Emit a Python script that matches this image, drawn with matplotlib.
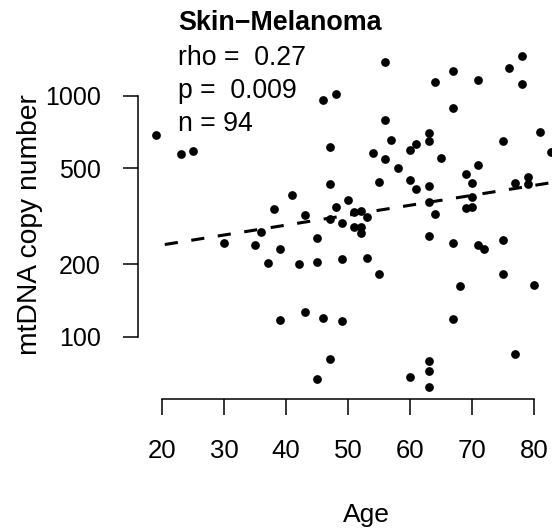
import matplotlib
matplotlib.use("Agg")
import matplotlib.pyplot as plt
import numpy as np

# data (age in years, mtDNA copy number)
age = [19, 23, 25, 46, 48, 47, 47, 41, 38, 43, 48, 50, 47, 49, 36, 45,
       56, 67, 64, 71, 76, 78, 78, 67, 56, 57, 54, 56, 58, 60, 61, 63,
       63, 65, 75, 81, 82.7, 55, 60, 61, 63, 63, 64, 69, 70, 71, 70, 69,
       70, 77, 79, 79, 51, 52, 53, 51, 52, 52, 63, 67, 71, 72, 75, 49,
       53, 55, 68, 75, 80, 49, 67, 47, 77, 63, 63, 60, 63, 30, 35, 39,
       37, 42, 45, 39, 43, 46, 45]
mtdna = [688, 574, 593, 962, 1019, 616, 431, 387, 339, 321, 347, 370, 307, 297, 272, 256,
         1385, 1274, 1140, 1162, 1304, 1462, 1122, 889, 791, 655, 581, 547, 501, 595, 630, 699,
         652, 551, 650, 711, 585, 438, 448, 410, 421, 361, 322, 472, 433, 518, 379, 342,
         347, 437, 459, 432, 330, 334, 315, 285, 286, 269, 262, 246, 240, 231, 253, 210,
         213, 183, 162, 182, 164, 116, 119, 81, 85, 79, 72, 68, 62, 246, 240, 231,
         203, 200, 205, 117, 127, 120, 67]

# log10(mtDNA) = fit_intercept + fit_slope * age
fit_intercept = 2.299
fit_slope = 0.004117
fit_range = [20.4, 87]

title = "Skin\u2212Melanoma"
stats = ["rho =  0.27", "p =  0.009", "n = 94"]
xticks = [20, 30, 40, 50, 60, 70, 80]
yticks = [100, 200, 500, 1000]

plt.rcParams["font.family"] = ["Liberation Sans", "DejaVu Sans"]
plt.rcParams["lines.scale_dashes"] = False

W, H = 552, 531
fig = plt.figure(figsize=(W / 100, H / 100), dpi=100)
# plot region runs past the right edge of the picture (the original is cropped)
ax = fig.add_axes([138.3 / W, 1 - 399.3 / H, (594 - 138.3) / W, (399.3 - 43) / H])

ax.set_yscale("log")
ax.set_xlim(16.12, 89.7)
ax.set_ylim(10 ** 1.740, 10 ** 3.220)

ax.plot(age, mtdna, "o", color="black", ms=6.3, mew=0)

fx = np.array(fit_range)
ax.plot(fx, 10 ** (fit_intercept + fit_slope * fx), color="black", lw=2.2,
        dashes=(9.5, 9.8), solid_capstyle="butt", dash_capstyle="butt")

for s in ["top", "right"]:
    ax.spines[s].set_visible(False)
ax.spines["left"].set_bounds(100, 1000)
ax.spines["bottom"].set_bounds(20, 80)
for s in ["left", "bottom"]:
    ax.spines[s].set_linewidth(1.1)

ax.set_xticks(xticks)
ax.set_xticklabels([str(t) for t in xticks])
ax.set_yticks(yticks)
ax.set_yticklabels([str(t) for t in yticks])
ax.yaxis.set_minor_locator(matplotlib.ticker.NullLocator())
ax.tick_params(axis="x", direction="out", length=11.5, width=1.1, pad=17, labelsize=18.5)
ax.tick_params(axis="y", direction="out", length=11, width=1.1, pad=16, labelsize=18)

# axis titles, placed in figure pixels
fig.text(366 / W, 1 - 522 / H, "Age", fontsize=19, ha="center", va="baseline")
fig.text(37 / W, 1 - 225 / H, "mtDNA copy number", fontsize=20.3, rotation=90,
         rotation_mode="anchor", ha="center", va="baseline")

fig.text(178.3 / W, 1 - 30.5 / H, title, fontsize=19.4, fontweight="bold", va="baseline")
for i, s in enumerate(stats):
    fig.text(178.3 / W, 1 - (65 + 32.8 * i) / H, s, fontsize=19.2, va="baseline")

fig.savefig("out.png", dpi=100)
plt.close(fig)
